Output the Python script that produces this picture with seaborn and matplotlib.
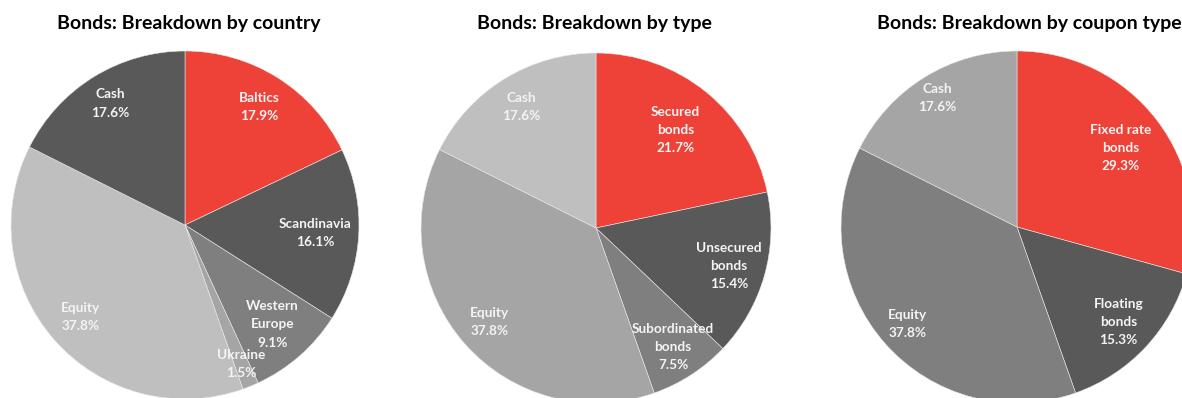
import numpy as np
import matplotlib
matplotlib.use("Agg")
import matplotlib.pyplot as plt
import seaborn as sns

# ---- data ----
country_labels = ["Baltics", "Scandinavia", "Western\nEurope", "Ukraine", "Equity", "Cash"]
country_values = [17.9, 16.1, 9.1, 1.5, 37.8, 17.6]

type_labels = ["Secured\nbonds", "Unsecured\nbonds", "Subordinated\nbonds", "Equity", "Cash"]
type_values = [21.7, 15.4, 7.5, 37.8, 17.6]

coupon_labels = ["Fixed rate\nbonds", "Floating\nbonds", "Equity", "Cash"]
coupon_values = [29.3, 15.3, 37.8, 17.6]

titles = ["Bonds: Breakdown by country", "Bonds: Breakdown by type",
          "Bonds: Breakdown by coupon type"]

# ---- styles ----
RED = "#EE4137"
country_colors = [RED, "#595959", "#7F7F7F", "#A5A5A5", "#BFBFBF", "#595959"]
type_colors = [RED, "#595959", "#7F7F7F", "#A5A5A5", "#BFBFBF"]
coupon_colors = [RED, "#595959", "#7F7F7F", "#A5A5A5"]

country_dist = [0.80, 0.75, 0.76, 0.86, 0.80, 0.82]
type_dist = [0.72, 0.79, 0.81, 0.81, 0.81]
coupon_dist = [0.74, 0.79, 0.83, 0.86]

sns.set_theme(style="white")
plt.rcParams["font.family"] = ["Lato", "DejaVu Sans"]

W, H = 1182, 398
fig = plt.figure(figsize=(W / 100, H / 100), dpi=100)
fig.patch.set_facecolor("white")

# pie centers / radii in pixels (x from left, y from top)
geoms = [(185, 225, 174), (596, 228, 175), (1017, 227, 176)]
title_x = [189, 594, 1029]

datasets = [
    (country_labels, country_values, country_colors, country_dist),
    (type_labels, type_values, type_colors, type_dist),
    (coupon_labels, coupon_values, coupon_colors, coupon_dist),
]

for (cx, cy, r), (labs, vals, cols, dists), tx, title in zip(geoms, datasets, title_x, titles):
    left = (cx - r) / W
    bottom = (H - cy - r) / H
    ax = fig.add_axes([left, bottom, 2 * r / W, 2 * r / H])
    wedges, _ = ax.pie(vals, colors=cols, startangle=90, counterclock=False,
                       radius=1.0, wedgeprops=dict(edgecolor="#E8E8E8", linewidth=0.4))
    ax.set_xlim(-1, 1)
    ax.set_ylim(-1, 1)
    ax.set_axis_off()
    for w, lab, v, d in zip(wedges, labs, vals, dists):
        ang = np.deg2rad((w.theta1 + w.theta2) / 2)
        ax.text(d * np.cos(ang), d * np.sin(ang), f"{lab}\n{v:.1f}%",
                ha="center", va="center", color="#F4F4F4", fontsize=9.8,
                fontweight="bold", linespacing=1.62, clip_on=False)
    fig.text(tx / W, 1 - 24 / H, title, ha="center", va="center",
             fontsize=14, fontweight="bold", color="black")

fig.savefig("out.png", dpi=100, facecolor="white")
